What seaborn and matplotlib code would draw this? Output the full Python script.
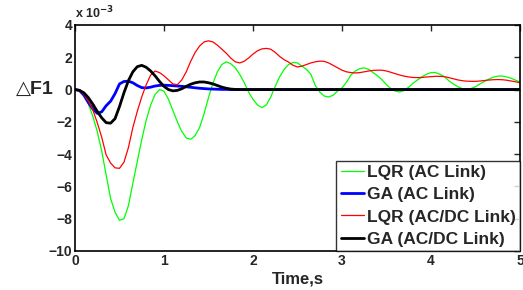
import numpy as np
import pandas as pd
import seaborn as sns
import matplotlib.pyplot as plt

# time axis (s)
t = np.round(np.arange(0, 101) * 0.05, 2)

# values in units of 1e-3
lqr_ac = [0, -0.05, -0.35, -0.9, -1.65, -2.6, -3.8, -5.3, -6.75, -7.6,
          -8.1, -8.0, -7.2, -5.8, -4.45, -3.1, -1.9, -0.95, -0.3, 0.0,
          -0.1, -0.6, -1.3, -2.0, -2.6, -3.0, -3.08, -2.85, -2.35, -1.5,
          -0.5, 0.4, 1.1, 1.55, 1.72, 1.6, 1.35, 0.95, 0.45, -0.15,
          -0.6, -0.95, -1.12, -0.95, -0.45, 0.2, 0.8, 1.25, 1.55, 1.68,
          1.65, 1.45, 1.25, 0.95, 0.25, -0.15, -0.4, -0.46, -0.35, -0.1,
          0.1, 0.45, 0.9, 1.15, 1.3, 1.34, 1.25, 1.05, 0.85, 0.6,
          0.3, 0.05, -0.1, -0.15, -0.05, 0.15, 0.4, 0.6, 0.8, 0.95,
          1.05, 1.05, 0.95, 0.8, 0.55, 0.35, 0.18, 0.06, 0.02, 0.06,
          0.18, 0.35, 0.5, 0.65, 0.77, 0.83, 0.84, 0.78, 0.7, 0.58,
          0.47]

ga_ac = [0, -0.05, -0.35, -0.8, -1.2, -1.47, -1.38, -1.0, -0.72, -0.25,
         0.35, 0.5, 0.52, 0.42, 0.25, 0.12, 0.1, 0.15, 0.22, 0.26,
         0.27, 0.26, 0.24, 0.22, 0.2, 0.17, 0.14, 0.11, 0.08, 0.06,
         0.04, 0.03, 0.02, 0.01, 0.01] + [0] * 66

lqr_acdc = [0, -0.05, -0.3, -0.7, -1.25, -2.05, -2.95, -4.05, -4.55, -4.85,
            -4.88, -4.5, -3.6, -2.35, -1.35, -0.45, 0.3, 0.9, 1.15, 1.05,
            0.85, 0.6, 0.35, 0.3, 0.6, 1.1, 1.75, 2.3, 2.7, 2.95,
            3.02, 2.95, 2.75, 2.5, 2.25, 1.95, 1.72, 1.65, 1.75, 1.95,
            2.2, 2.4, 2.52, 2.55, 2.5, 2.3, 2.05, 1.85, 1.7, 1.5,
            1.4, 1.45, 1.55, 1.65, 1.72, 1.76, 1.75, 1.65, 1.5, 1.35,
            1.2, 1.1, 1.05, 1.03, 1.05, 1.1, 1.15, 1.19, 1.2, 1.2,
            1.15, 1.07, 0.98, 0.9, 0.83, 0.78, 0.75, 0.74, 0.75, 0.78,
            0.8, 0.82, 0.82, 0.8, 0.74, 0.67, 0.6, 0.55, 0.52, 0.51,
            0.51, 0.53, 0.56, 0.59, 0.61, 0.62, 0.61, 0.58, 0.53, 0.48,
            0.43]

ga_acdc = [0, -0.05, -0.2, -0.5, -0.9, -1.35, -1.75, -2.05, -2.08, -1.8,
           -1.05, -0.2, 0.55, 1.1, 1.42, 1.5, 1.38, 1.15, 0.85, 0.5,
           0.2, 0.0, -0.08, -0.05, 0.05, 0.2, 0.33, 0.42, 0.47, 0.47,
           0.42, 0.35, 0.25, 0.15, 0.08, 0.03, 0.01] + [0] * 64

labels = ["LQR (AC Link)", "GA (AC Link)", "LQR (AC/DC Link)", "GA (AC/DC Link)"]
series = [lqr_ac, ga_ac, lqr_acdc, ga_acdc]
colors = ["#00ff00", "#0000ff", "#ff0000", "#000000"]
widths = [0.9, 2.0, 0.9, 2.0]

sns.set_style("white")
plt.rcParams["font.family"] = ["Liberation Sans", "DejaVu Sans"]
plt.rcParams["font.weight"] = "bold"

fig = plt.figure(figsize=(5.23, 2.9), dpi=100)
ax = fig.add_axes([0.1434, 0.1345, 0.8509, 0.7793])

for vals, lab, c, lw in zip(series, labels, colors, widths):
    sns.lineplot(x=t, y=vals, color=c, linewidth=lw, label=lab, ax=ax)

ax.set_xlim(0, 5)
ax.set_ylim(-10, 4)
ax.set_xticks([0, 1, 2, 3, 4, 5])
ax.set_yticks([-10, -8, -6, -4, -2, 0, 2, 4])
ax.tick_params(direction="in", top=True, right=True, length=4, width=1,
               labelsize=10, pad=2)
for lbl in ax.get_xticklabels() + ax.get_yticklabels():
    lbl.set_fontweight("bold")
for s in ax.spines.values():
    s.set_linewidth(1.2)
    s.set_color("black")

ax.set_xlabel("Time,s", fontsize=12, fontweight="bold", labelpad=3)
ax.set_ylabel("△F1", fontsize=14, fontweight="bold", rotation=0, va="center")
ax.yaxis.set_label_coords(-0.09, 0.717)
ax.text(0.0, 1.015, r"x 10$^{\mathbf{-3}}$", transform=ax.transAxes,
        fontsize=9, fontweight="bold", ha="left", va="bottom")

leg = ax.legend(loc="lower right", fontsize=12.5, frameon=True, fancybox=False,
                borderpad=0.25, labelspacing=0.4, handlelength=1.35,
                handletextpad=0.15, borderaxespad=0)
leg.get_frame().set_edgecolor("black")
leg.get_frame().set_linewidth(1.0)
for txt in leg.get_texts():
    txt.set_fontweight("bold")

fig.savefig("out.png", dpi=100)
